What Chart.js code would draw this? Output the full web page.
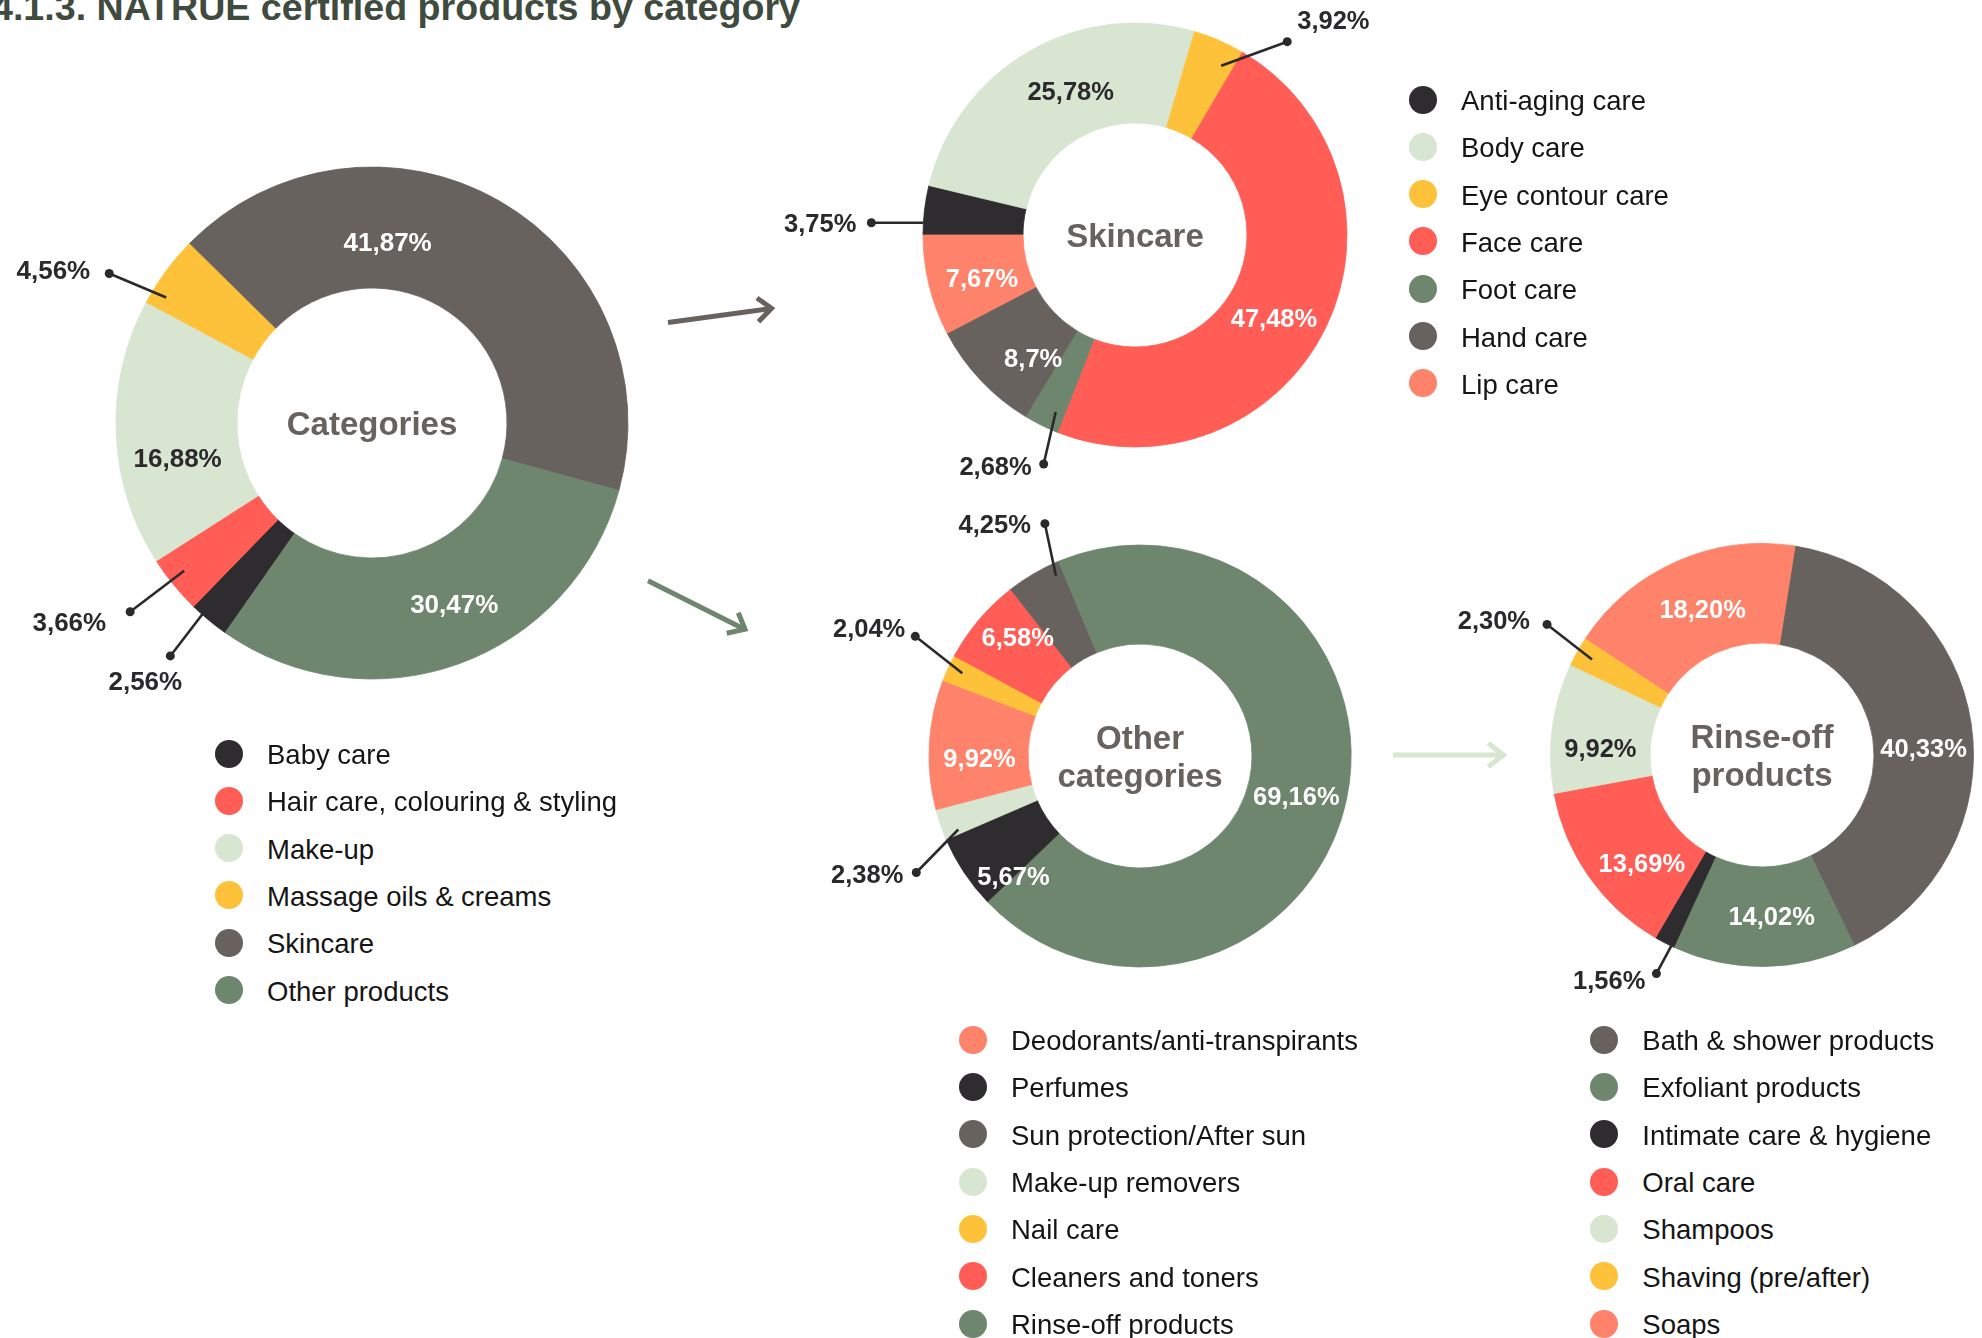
<!DOCTYPE html>
<html>
<head>
<meta charset="utf-8">
<script src="https://cdn.jsdelivr.net/npm/chart.js@4.4.0/dist/chart.umd.min.js"></script>
<style>
html,body{margin:0;padding:0;background:#fff;}
#page{position:relative;width:1982px;height:1338px;overflow:hidden;background:#fff;font-family:"Liberation Sans",Arial,Helvetica,sans-serif;}
.chartbox{position:absolute;}
.lg-dot{position:absolute;width:28px;height:28px;border-radius:50%;}
.lg-txt{position:absolute;font-size:27.5px;line-height:32px;color:#151515;white-space:nowrap;}
#deco{position:absolute;left:0;top:0;}
</style>
</head>
<body>
<div id="page">
<svg id="deco" width="1982" height="1338" xmlns="http://www.w3.org/2000/svg">
  <text x="-8" y="20" font-family="'Liberation Sans Narrow','Liberation Sans',Arial,sans-serif" font-weight="bold" font-size="36" textLength="808" lengthAdjust="spacingAndGlyphs" fill="#3f4b3e">4.1.3. NATRUE certified products by category</text>
  <g fill="none" stroke-width="5" stroke-linejoin="miter" stroke-linecap="butt">
    <line x1="668" y1="322.5" x2="770" y2="308.6" stroke="#67625e"/>
    <polyline points="757,298 771.5,308.3 758.5,321.7" stroke="#67625e"/>
    <line x1="648" y1="580.7" x2="743" y2="628.5" stroke="#6e866d"/>
    <polyline points="738.3,612.7 745,629.3 726.7,633.3" stroke="#6e866d"/>
    <line x1="1393" y1="755" x2="1501" y2="755" stroke="#d8e5d0"/>
    <polyline points="1488.3,743.3 1503.3,755 1488.3,766.7" stroke="#d8e5d0"/>
  </g>
</svg>
</div>
<script>
// ---------------- DATA ----------------
const categoryLabels = ['Baby care', 'Hair care, colouring & styling', 'Make-up', 'Massage oils & creams', 'Skincare', 'Other products'];
const categoryValues = ['2,56', '3,66', '16,88', '4,56', '41,87', '30,47'];

const skincareLabels = ['Anti-aging care', 'Body care', 'Eye contour care', 'Face care', 'Foot care', 'Hand care', 'Lip care'];
const skincareValues = ['3,75', '25,78', '3,92', '47,48', '2,68', '8,7', '7,67'];

// drawing order (clockwise) of the "Other categories" ring
const otherLabels = ['Sun protection/After sun', 'Rinse-off products', 'Perfumes', 'Make-up removers', 'Deodorants/anti-transpirants', 'Nail care', 'Cleaners and toners'];
const otherValues = ['4,25', '69,16', '5,67', '2,38', '9,92', '2,04', '6,58'];
const otherLegend = ['Deodorants/anti-transpirants', 'Perfumes', 'Sun protection/After sun', 'Make-up removers', 'Nail care', 'Cleaners and toners', 'Rinse-off products'];

const rinseLabels = ['Bath & shower products', 'Exfoliant products', 'Intimate care & hygiene', 'Oral care', 'Shampoos', 'Shaving (pre/after)', 'Soaps'];
const rinseValues = ['40,33', '14,02', '1,56', '13,69', '9,92', '2,30', '18,20'];

// ---------------- STYLE ----------------
const FONT = '"Liberation Sans", Arial, Helvetica, sans-serif';
const COL = {dark:'#2e2c2f', red:'#ff5d56', light:'#d8e5d0', yellow:'#fdc239', gray:'#67625e', green:'#6e866d', salmon:'#ff836b'};
const DARKTXT = '#2b292c';
const WHITE = '#ffffff';

const colorOf = {
  'Baby care':COL.dark, 'Hair care, colouring & styling':COL.red, 'Make-up':COL.light, 'Massage oils & creams':COL.yellow, 'Skincare':COL.gray, 'Other products':COL.green,
  'Anti-aging care':COL.dark, 'Body care':COL.light, 'Eye contour care':COL.yellow, 'Face care':COL.red, 'Foot care':COL.green, 'Hand care':COL.gray, 'Lip care':COL.salmon,
  'Sun protection/After sun':COL.gray, 'Rinse-off products':COL.green, 'Perfumes':COL.dark, 'Make-up removers':COL.light, 'Deodorants/anti-transpirants':COL.salmon, 'Nail care':COL.yellow, 'Cleaners and toners':COL.red,
  'Bath & shower products':COL.gray, 'Exfoliant products':COL.green, 'Intimate care & hygiene':COL.dark, 'Oral care':COL.red, 'Shampoos':COL.light, 'Shaving (pre/after)':COL.yellow, 'Soaps':COL.salmon
};

const num = s => parseFloat(s.replace(',', '.'));

// label placement per slice: 'in' = inside ring (angle/radius tweak), 'out' = leader line + dot
const catLayout = {
  'Baby care': {type:'out', da:2, r1:-2, v:[-33,43], t:[-25,25], align:'center'},
  'Hair care, colouring & styling': {type:'out', da:1, r1:-17, v:[-54,41], t:[-24,11], align:'right'},
  'Make-up': {type:'in', da:-8, dr:2, color:DARKTXT},
  'Massage oils & creams': {type:'out', da:-5, r1:-15, v:[-57,-24], t:[-19,-3], align:'right'},
  'Skincare': {type:'in', da:-25, dr:-14, color:WHITE},
  'Other products': {type:'in', da:-4.5, dr:4, color:WHITE}
};
const skinLayout = {
  'Anti-aging care': {type:'out', da:-3.45, r1:0, v:[-52,0], t:[-15,1], align:'right'},
  'Body care': {type:'in', da:5.9, dr:-5, color:DARKTXT},
  'Eye contour care': {type:'out', da:3.6, r1:-22, v:[66,-24], t:[10,-21], align:'left'},
  'Face care': {type:'in', da:5, dr:0, color:WHITE},
  'Foot care': {type:'out', da:-2.1, r1:-18, v:[-12,52], t:[-12,2], align:'right'},
  'Hand care': {type:'in', da:-7.2, dr:-2, color:WHITE},
  'Lip care': {type:'in', da:-1.9, dr:-3, color:WHITE}
};
const otherLayout = {
  'Sun protection/After sun': {type:'out', da:5.35, r1:-12, v:[-11,-52], t:[-14,1], align:'right'},
  'Rinse-off products': {type:'in', da:2.7, dr:0, color:WHITE},
  'Perfumes': {type:'in', da:-10, dr:13, color:WHITE},
  'Make-up removers': {type:'out', da:-3, r1:-15, v:[-42,43], t:[-13,2], align:'right'},
  'Deodorants/anti-transpirants': {type:'in', da:-3.9, dr:-1, color:WHITE},
  'Nail care': {type:'out', da:0.3, r1:-15, v:[-47,-37], t:[-10,-8], align:'right'},
  'Cleaners and toners': {type:'in', da:4, dr:9, color:WHITE}
};
const rinseLayout = {
  'Bath & shower products': {type:'in', da:6, dr:0, color:WHITE},
  'Exfoliant products': {type:'in', da:-2.8, dr:0, color:WHITE},
  'Intimate care & hygiene': {type:'out', da:-2, r1:-0.5, v:[-15,28], t:[-11,7], align:'right'},
  'Oral care': {type:'in', da:-6.9, dr:0, color:WHITE},
  'Shampoos': {type:'in', da:-5, dr:0, color:DARKTXT},
  'Shaving (pre/after)': {type:'out', da:0, r1:-16.5, v:[-45,-35], t:[-17,-4], align:'right'},
  'Soaps': {type:'in', da:1.5, dr:-5, color:WHITE}
};

// ---------------- PLUGIN ----------------
const sliceLabelPlugin = {
  id: 'sliceLabels',
  afterDatasetsDraw(chart) {
    const o = chart.options.plugins.sliceLabels;
    const ctx = chart.ctx;
    const meta = chart.getDatasetMeta(0);
    ctx.save();
    let cx = 0, cy = 0;
    meta.data.forEach((arc, i) => {
      const lab = chart.data.labels[i];
      const L = o.layout[lab];
      const p = arc.getProps(['x','y','startAngle','endAngle','innerRadius','outerRadius'], true);
      cx = p.x; cy = p.y;
      if (!L) return;
      const a = (p.startAngle + p.endAngle) / 2 + (L.da || 0) * Math.PI / 180;
      const text = o.texts[i] + '%';
      ctx.font = 'bold ' + o.fontSize + 'px ' + FONT;
      ctx.textBaseline = 'middle';
      if (L.type === 'in') {
        const rr = (p.innerRadius + p.outerRadius) / 2 + (L.dr || 0);
        ctx.fillStyle = L.color;
        ctx.textAlign = 'center';
        ctx.fillText(text, p.x + rr * Math.cos(a), p.y + rr * Math.sin(a) + 1.5);
      } else {
        const r1 = p.outerRadius + L.r1;
        const sx = p.x + r1 * Math.cos(a), sy = p.y + r1 * Math.sin(a);
        const dx = sx + L.v[0], dy = sy + L.v[1];
        ctx.strokeStyle = DARKTXT;
        ctx.lineWidth = 2.6;
        ctx.beginPath(); ctx.moveTo(sx, sy); ctx.lineTo(dx, dy); ctx.stroke();
        ctx.fillStyle = DARKTXT;
        ctx.beginPath(); ctx.arc(dx, dy, 4.5, 0, Math.PI * 2); ctx.fill();
        ctx.textAlign = L.align;
        ctx.fillText(text, dx + L.t[0], dy + L.t[1] + 1.5);
      }
    });
    // centre title
    ctx.font = 'bold ' + o.centerSize + 'px ' + FONT;
    ctx.fillStyle = '#67625e';
    ctx.textAlign = 'center';
    ctx.textBaseline = 'middle';
    o.center.forEach((line, k) => ctx.fillText(line, cx, cy + o.centerOffsets[k]));
    ctx.restore();
  }
};

// ---------------- BUILD ----------------
const H = 380;
function makeDonut(spec) {
  const page = document.getElementById('page');
  const box = document.createElement('div');
  box.className = 'chartbox';
  box.style.left = (spec.cx - H) + 'px';
  box.style.top = (spec.cy - H) + 'px';
  box.style.width = (2 * H) + 'px';
  box.style.height = (2 * H) + 'px';
  const cv = document.createElement('canvas');
  cv.width = 2 * H; cv.height = 2 * H;
  cv.style.width = (2 * H) + 'px'; cv.style.height = (2 * H) + 'px';
  box.appendChild(cv);
  page.appendChild(box);
  const colors = spec.labels.map(l => colorOf[l]);
  new Chart(cv, {
    type: 'doughnut',
    data: {
      labels: spec.labels,
      datasets: [{
        data: spec.values.map(num),
        backgroundColor: colors,
        borderColor: colors,
        borderWidth: 0.8,
        hoverOffset: 0,
        offset: 0
      }]
    },
    options: {
      responsive: false,
      animation: false,
      events: [],
      radius: spec.R,
      cutout: (spec.r / spec.R * 100) + '%',
      rotation: spec.rotation,
      layout: {padding: 0},
      plugins: {
        legend: {display: false},
        tooltip: {enabled: false},
        sliceLabels: {
          layout: spec.layout,
          texts: spec.values,
          fontSize: spec.fontSize,
          center: spec.center,
          centerOffsets: spec.centerOffsets,
          centerSize: 33
        }
      }
    },
    plugins: [sliceLabelPlugin]
  });
}

function makeLegend(items, dotX, textX, y0, step) {
  const page = document.getElementById('page');
  items.forEach((label, i) => {
    const y = y0 + step * i;
    const d = document.createElement('div');
    d.className = 'lg-dot';
    d.style.left = (dotX - 14) + 'px';
    d.style.top = (y - 14) + 'px';
    d.style.background = colorOf[label];
    page.appendChild(d);
    const t = document.createElement('div');
    t.className = 'lg-txt';
    t.style.left = textX + 'px';
    t.style.top = (y - 14.5) + 'px';
    t.textContent = label;
    page.appendChild(t);
  });
}

makeDonut({labels: categoryLabels, values: categoryValues, layout: catLayout, cx: 372, cy: 423, R: 256, r: 135, rotation: 215, fontSize: 26, center: ['Categories'], centerOffsets: [3]});
makeDonut({labels: skincareLabels, values: skincareValues, layout: skinLayout, cx: 1135, cy: 234.5, R: 212, r: 112, rotation: 270, fontSize: 25.5, center: ['Skincare'], centerOffsets: [3]});
makeDonut({labels: otherLabels, values: otherValues, layout: otherLayout, cx: 1139.5, cy: 755.5, R: 211, r: 112, rotation: 322, fontSize: 25.5, center: ['Other', 'categories'], centerOffsets: [-16.5, 22]});
makeDonut({labels: rinseLabels, values: rinseValues, layout: rinseLayout, cx: 1762, cy: 755, R: 211.5, r: 112, rotation: 9, fontSize: 25.5, center: ['Rinse-off', 'products'], centerOffsets: [-16.5, 22]});

makeLegend(categoryLabels, 229, 267, 753.5, 47.3);
makeLegend(skincareLabels, 1423.3, 1461, 99.5, 47.3);
makeLegend(otherLegend, 973.3, 1011, 1039.5, 47.35);
makeLegend(rinseLabels, 1604.3, 1642.3, 1039.5, 47.35);
</script>
</body>
</html>
